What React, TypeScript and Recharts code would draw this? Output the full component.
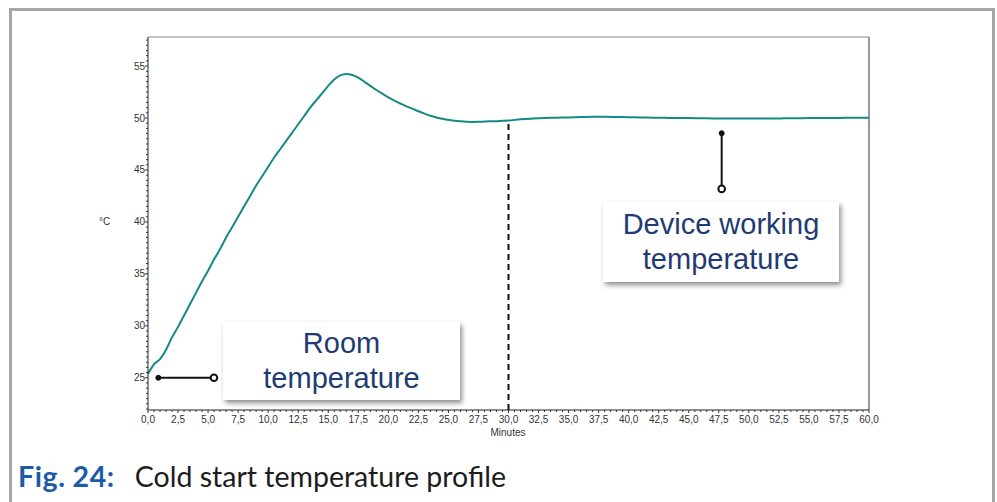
import { LineChart, Line, XAxis, YAxis, ReferenceLine, ReferenceDot } from "recharts";

// minutes
const minutes = [
  0, 0.5, 1, 1.5, 2, 2.5, 3, 3.5, 4, 4.5, 5, 5.5, 6, 6.5, 7, 7.5, 8, 8.5, 9, 9.5,
  10, 10.5, 11, 11.5, 12, 12.5, 13, 13.5, 14, 14.5, 15, 15.5, 16, 16.5, 17, 17.5,
  18, 18.5, 19, 19.5, 20, 20.5, 21, 21.5, 22, 22.5, 23, 23.5, 24, 24.5, 25, 25.5,
  26, 26.5, 27, 27.5, 28, 28.5, 29, 29.5, 30, 31, 32, 33, 34, 35, 36, 37, 38, 39,
  40, 41, 42, 43, 44, 45, 46, 47, 48, 49, 50, 51, 52, 53, 54, 55, 56, 57, 58, 59, 60,
];
// °C
const temperature = [
  25.4, 26.3, 26.8, 27.7, 28.9, 29.9, 31.0, 32.1, 33.2, 34.3, 35.3, 36.4, 37.4, 38.5,
  39.5, 40.5, 41.5, 42.5, 43.5, 44.4, 45.3, 46.2, 47.0, 47.8, 48.6, 49.4, 50.2, 51.0,
  51.7, 52.4, 53.1, 53.7, 54.1, 54.25, 54.15, 53.9, 53.5, 53.1, 52.7, 52.35, 52.0,
  51.68, 51.4, 51.13, 50.9, 50.65, 50.42, 50.22, 50.06, 49.93, 49.83, 49.74, 49.68,
  49.64, 49.63, 49.64, 49.66, 49.68, 49.7, 49.73, 49.76, 49.88, 49.95, 50.0, 50.03,
  50.06, 50.09, 50.12, 50.12, 50.1, 50.08, 50.05, 50.04, 50.02, 50.0, 50.0, 49.98,
  49.96, 49.95, 49.95, 49.95, 49.96, 49.95, 49.97, 49.98, 50.0, 50.0, 50.0, 50.02,
  50.03, 50.03,
];

const xMajorTicks = [
  0, 2.5, 5, 7.5, 10, 12.5, 15, 17.5, 20, 22.5, 25, 27.5, 30, 32.5, 35, 37.5, 40,
  42.5, 45, 47.5, 50, 52.5, 55, 57.5, 60,
];
const yMajorTicks = [25, 30, 35, 40, 45, 50, 55];
const yDomain = [21.9, 57.8];

const xTicks: number[] = [];
for (let v = 0; v <= 60; v += 0.5) xTicks.push(v);
const yTicks: number[] = [];
for (let v = 22; v <= 57.5; v += 0.5) yTicks.push(v);

const data = minutes.map((m, i) => ({ m, temp: temperature[i] }));

const PLOT_LEFT = 148;
const AXIS_Y = 410;
const tickFont = "'Liberation Sans', Arial, sans-serif";

const XTick = (props: any) => {
  const { x, payload } = props;
  const major = xMajorTicks.includes(payload.value);
  return (
    <g>
      <line x1={x} x2={x} y1={AXIS_Y} y2={AXIS_Y + (major ? 3 : 2)} stroke="#333" />
      {major && (
        <text x={x} y={AXIS_Y + 13} textAnchor="middle" fontSize={10} fill="#333" fontFamily={tickFont}>
          {payload.value.toFixed(1).replace(".", ",")}
        </text>
      )}
    </g>
  );
};

const YTick = (props: any) => {
  const { y, payload } = props;
  const major = yMajorTicks.includes(payload.value);
  return (
    <g>
      <line x1={PLOT_LEFT - (major ? 3 : 2)} x2={PLOT_LEFT} y1={y} y2={y} stroke="#333" />
      {major && (
        <text x={PLOT_LEFT - 3} y={y + 3.5} textAnchor="end" fontSize={10} fill="#333" fontFamily={tickFont}>
          {payload.value}
        </text>
      )}
    </g>
  );
};

const boxStyle: React.CSSProperties = {
  position: "absolute",
  background: "#fff",
  boxShadow: "2px 3px 5px rgba(0,0,0,0.45)",
  color: "#1f3b73",
  fontFamily: "'Liberation Sans', Arial, sans-serif",
  fontSize: 29,
  lineHeight: "35px",
  textAlign: "center",
  display: "flex",
  flexDirection: "column",
  justifyContent: "center",
};

export default function App() {
  return (
    <div style={{ position: "absolute", left: 0, top: 0, width: 997, height: 502, overflow: "hidden", background: "#fff" }}>
      <div
        style={{
          position: "absolute",
          left: 9,
          top: 8,
          width: 980,
          height: 494,
          border: "3px solid #a6a6a6",
          borderBottom: "none",
        }}
      />
      <div style={{ position: "absolute", left: 0, top: 0 }}>
        <LineChart
          width={997}
          height={502}
          data={data}
          margin={{ top: 37, right: 128, left: 108, bottom: 62 }}
        >
          <XAxis
            dataKey="m"
            type="number"
            domain={[0, 60]}
            ticks={xTicks}
            interval={0}
            height={30}
            tickLine={false}
            axisLine={{ stroke: "#222" }}
            tick={<XTick />}
          />
          <YAxis
            type="number"
            domain={yDomain}
            allowDataOverflow
            ticks={yTicks}
            interval={0}
            width={40}
            tickLine={false}
            axisLine={{ stroke: "#222" }}
            tick={<YTick />}
          />
          <ReferenceLine y={57.8} stroke="#888" />
          <ReferenceLine x={60} stroke="#333" />
          <ReferenceLine
            segment={[{ x: 30, y: 21.9 }, { x: 30, y: 49.8 }]}
            stroke="#111"
            strokeWidth={2}
            strokeDasharray="6 4"
          />
          <Line
            type="monotone"
            dataKey="temp"
            stroke="#138a85"
            strokeWidth={2}
            dot={false}
            isAnimationActive={false}
          />
          <ReferenceLine segment={[{ x: 0.86, y: 25 }, { x: 5.2, y: 25 }]} stroke="#111" strokeWidth={2} />
          <ReferenceDot x={0.86} y={25} r={2.5} fill="#111" stroke="#111" />
          <ReferenceDot x={5.49} y={25} r={3.3} fill="#fff" stroke="#111" strokeWidth={2} />
          <ReferenceLine segment={[{ x: 47.74, y: 48.54 }, { x: 47.74, y: 43.5 }]} stroke="#111" strokeWidth={2} />
          <ReferenceDot x={47.74} y={48.54} r={2.5} fill="#111" stroke="#111" />
          <ReferenceDot x={47.74} y={43.18} r={3.3} fill="#fff" stroke="#111" strokeWidth={2} />
        </LineChart>
      </div>
      <div style={{ position: "absolute", left: 99, top: 216, fontSize: 10, color: "#333", fontFamily: tickFont }}>°C</div>
      <div style={{ position: "absolute", left: 488, top: 427, width: 40, textAlign: "center", fontSize: 10, color: "#333", fontFamily: tickFont }}>
        Minutes
      </div>
      <div style={{ ...boxStyle, left: 223, top: 322, width: 237, height: 78 }}>
        <div>Room</div>
        <div>temperature</div>
      </div>
      <div style={{ ...boxStyle, left: 603, top: 202, width: 236, height: 80 }}>
        <div>Device working</div>
        <div>temperature</div>
      </div>
      <div
        style={{
          position: "absolute",
          left: 18,
          top: 460,
          fontFamily: "Lato, 'Open Sans', sans-serif",
          fontSize: 28.5,
          lineHeight: "32px",
          whiteSpace: "nowrap",
          color: "#1c1c1c",
        }}
      >
        <span style={{ color: "#1d5ba6", fontWeight: 700, letterSpacing: 0.6 }}>
          Fig.<span style={{ marginLeft: 7 }}>24:</span>
        </span>
        <span style={{ marginLeft: 20 }}>Cold start temperature profile</span>
      </div>
    </div>
  );
}
